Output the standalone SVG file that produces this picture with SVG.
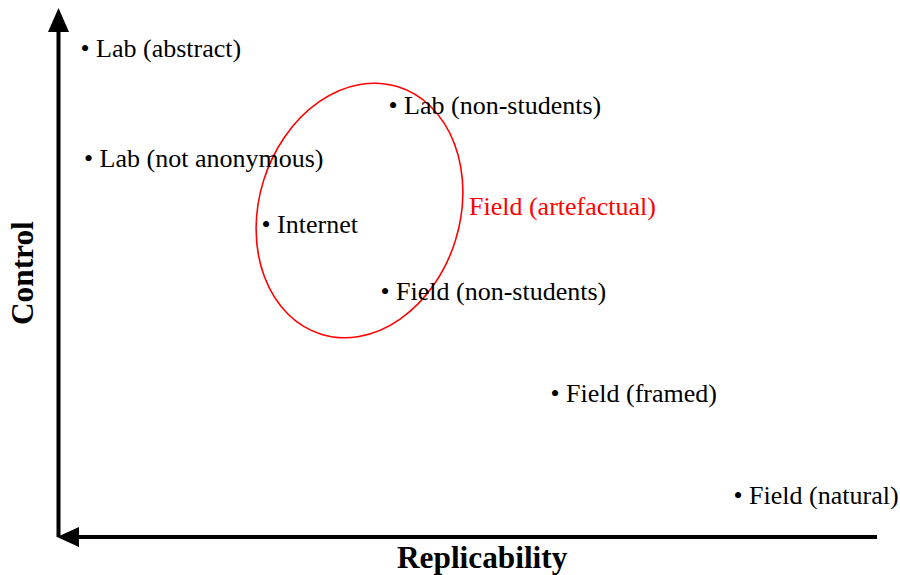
<svg xmlns="http://www.w3.org/2000/svg" width="900" height="575" viewBox="0 0 900 575">
  <style>
    .lbl { font-family: "Liberation Serif", "Times New Roman", serif; font-size: 26px; fill: #000; }
    .red { fill: #ff0000; }
    .axis-title { font-family: "Liberation Serif", "Times New Roman", serif; font-size: 31.3px; font-weight: bold; fill: #000; }
    .axis { stroke: #000; stroke-width: 4; fill: none; }
    .arrowhead { fill: #000; }
  </style>
  <rect width="900" height="575" fill="#fff"/>

  <!-- axes -->
  <g id="axes">
    <line class="axis" x1="58.5" y1="30" x2="58.5" y2="537"/>
    <polygon class="arrowhead" points="58.5,8 48,32 69,32"/>
    <line class="axis" x1="75" y1="537" x2="877" y2="537"/>
    <polygon class="arrowhead" points="57,537 79,527 79,547"/>
    <text class="axis-title" x="397" y="568">Replicability</text>
    <text class="axis-title" transform="translate(33,325) rotate(-90)" x="0" y="0">Control</text>
  </g>

  <!-- artefactual field experiments region -->
  <g id="artefactual">
    <ellipse cx="359.5" cy="210.5" rx="100.5" ry="129.5" transform="rotate(17.3 359.5 210.5)" fill="none" stroke="#ff0000" stroke-width="1.6"/>
    <text class="lbl red" x="469" y="214.5">Field (artefactual)</text>
  </g>

  <g id="lab-abstract"><text class="lbl" x="80.5" y="57">• Lab (abstract)</text></g>
  <g id="lab-not-anonymous"><text class="lbl" x="84" y="167">• Lab (not anonymous)</text></g>
  <g id="lab-non-students"><text class="lbl" x="388.5" y="114">• Lab (non-students)</text></g>
  <g id="internet"><text class="lbl" x="261.5" y="232.5">• Internet</text></g>
  <g id="field-non-students"><text class="lbl" x="380.5" y="300">• Field (non-students)</text></g>
  <g id="field-framed"><text class="lbl" x="550.5" y="402">• Field (framed)</text></g>
  <g id="field-natural"><text class="lbl" x="733.5" y="503.5">• Field (natural)</text></g>
</svg>
